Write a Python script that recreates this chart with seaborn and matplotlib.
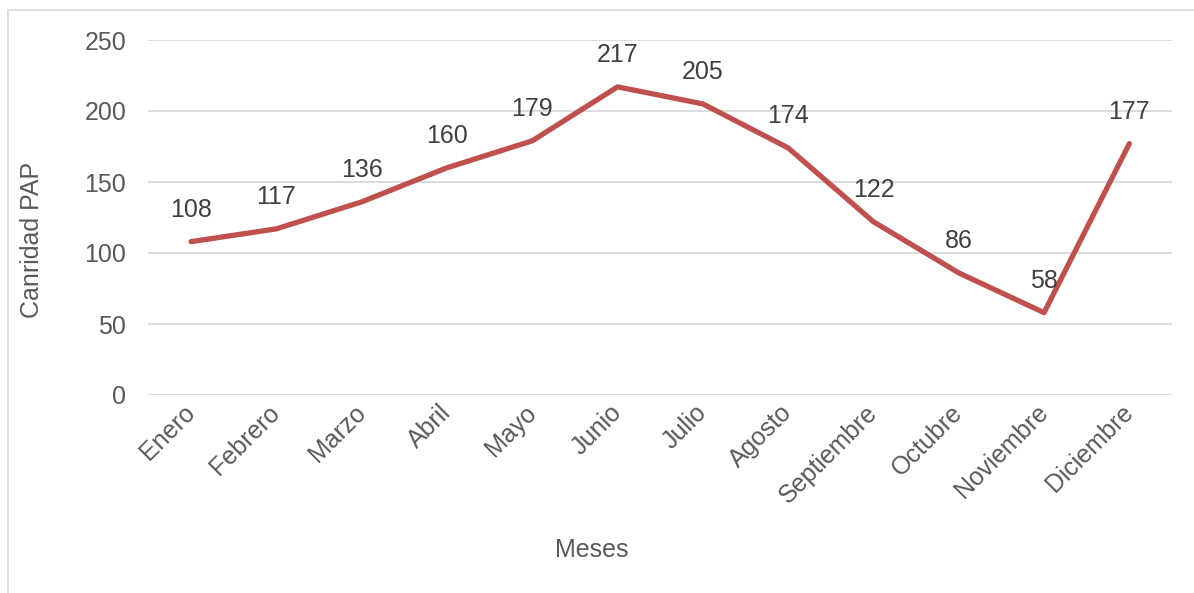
import matplotlib
matplotlib.use("Agg")
import matplotlib.pyplot as plt
import seaborn as sns
import pandas as pd
from matplotlib.patches import Rectangle

meses = ["Enero", "Febrero", "Marzo", "Abril", "Mayo", "Junio", "Julio",
         "Agosto", "Septiembre", "Octubre", "Noviembre", "Diciembre"]
cantidad = [108, 117, 136, 160, 179, 217, 205, 174, 122, 86, 58, 177]
yticks = [0, 50, 100, 150, 200, 250]

sns.set_theme(style="white")
plt.rcParams['font.family'] = ['Liberation Sans', 'DejaVu Sans']

df = pd.DataFrame({"Meses": meses, "Cantidad": cantidad})

W, H = 1194, 593
L, R, T, B = 148.4, 1172, 40, 395
fig = plt.figure(figsize=(W/100, H/100), dpi=100)
ax = fig.add_axes([L/W, 1-B/H, (R-L)/W, (B-T)/H])

fig.patches.append(Rectangle((8/W, -0.1), 1.2, 1-10/H+0.1, transform=fig.transFigure,
                             fill=False, edgecolor="#D9D9D9", linewidth=1.2, zorder=0))

sns.lineplot(data=df, x="Meses", y="Cantidad", ax=ax, color="#C0504D",
             linewidth=3.8, sort=False, solid_capstyle="round")

ax.set_xlim(-0.5, len(meses) - 0.5)
ax.set_ylim(0, 250)
ax.set_yticks(yticks)
ax.yaxis.grid(True, color="#D9D9D9", linewidth=1.3)
ax.set_axisbelow(True)
for s in ax.spines.values():
    s.set_visible(False)

ax.tick_params(axis="both", length=0, labelsize=18, colors="#595959")
ax.tick_params(axis="y", pad=16)
ax.tick_params(axis="x", pad=10)
ax.set_xticks(range(len(meses)))
ax.set_xticklabels(meses, rotation=45, ha="right", va="center", rotation_mode="anchor")

for i, v in enumerate(cantidad):
    ax.annotate(str(v), (i, v), xytext=(0, 23), textcoords="offset points",
                ha="center", va="center", fontsize=18, color="#404040")

ax.set_xlabel("Meses", fontsize=18, color="#595959")
ax.set_ylabel("Canridad PAP", fontsize=18, color="#595959")
ax.xaxis.set_label_coords((592-L)/(R-L), -(538-B)/(B-T))
ax.yaxis.set_label_coords(-(L-44)/(R-L), (B-240)/(B-T))

fig.savefig("out.png", dpi=100)
